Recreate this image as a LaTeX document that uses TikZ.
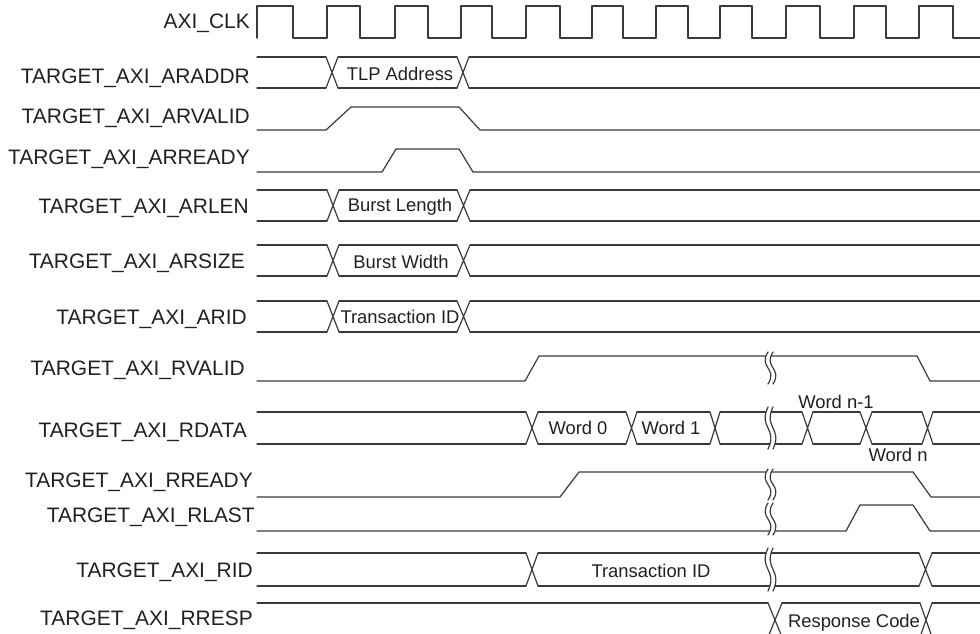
\documentclass[tikz,border=0pt]{standalone}
\usepackage{fontspec}
\setmainfont{Liberation Sans}
\definecolor{linec}{HTML}{3A3A3A}
\definecolor{textc}{HTML}{231F20}
\tikzset{
  sig/.style={draw=linec,line width=0.9pt,line cap=round,line join=round},
  lbl/.style={anchor=base east,inner sep=0pt,text=textc,font=\fontsize{15.7}{18}\selectfont},
  val/.style={anchor=base,inner sep=0pt,text=textc,font=\fontsize{13.8}{16}\selectfont},
}
% x1 x2 top bottom : two parallel levels
\newcommand\lvl[4]{\draw[sig] (#1,#3) -- (#2,#3) (#1,#4) -- (#2,#4);}
% xa xb top bottom : crossing
\newcommand\crs[4]{\draw[sig] (#1,#3) -- (#2,#4) (#1,#4) -- (#2,#3);}
% x top bottom : break mark
\newcommand\brk[3]{%
  \fill[white] (#1,#2) .. controls ({#1-10},{(#2+#3)/2}) and ({#1+10},{(#2+#3)/2}) .. (#1,#3)
     -- ({#1+5},#3) .. controls ({#1+15},{(#2+#3)/2}) and ({#1-5},{(#2+#3)/2}) .. ({#1+5},#2) -- cycle;
  \draw[sig] (#1,#2) .. controls ({#1-10},{(#2+#3)/2}) and ({#1+10},{(#2+#3)/2}) .. (#1,#3);
  \draw[sig] ({#1+5},#2) .. controls ({#1-5},{(#2+#3)/2}) and ({#1+15},{(#2+#3)/2}) .. ({#1+5},#3);}
\begin{document}
\begin{tikzpicture}[x=0.75pt,y=-0.75pt]
\useasboundingbox (0,0) rectangle (980,634);
% labels
\node[lbl] (lclk)    at (250,29)  {AXI\_CLK};
\node[lbl] (laraddr) at (250,84)  {TARGET\_AXI\_ARADDR};
\node[lbl] (larvalid) at (250,124) {TARGET\_AXI\_ARVALID};
\node[lbl] (larready) at (250,165) {TARGET\_AXI\_ARREADY};
\node[lbl] (larlen)  at (249,214) {TARGET\_AXI\_ARLEN};
\node[lbl] (larsize) at (245,269) {TARGET\_AXI\_ARSIZE};
\node[lbl] (larid)   at (247,325) {TARGET\_AXI\_ARID};
\node[lbl] (lrvalid) at (245,375) {TARGET\_AXI\_RVALID};
\node[lbl] (lrdata)  at (247,437) {TARGET\_AXI\_RDATA};
\node[lbl] (lrready) at (253,487) {TARGET\_AXI\_RREADY};
\node[lbl] (lrlast)  at (255,522) {TARGET\_AXI\_RLAST};
\node[lbl] (lrid)    at (253,577) {TARGET\_AXI\_RID};
\node[lbl] (lrresp)  at (253,625) {TARGET\_AXI\_RRESP};
% clock
\draw[sig] (257,38) -- (257,6) -- (293,6) -- (293,38) -- (327,38) -- (327,6) -- (360,6) -- (360,38)
  -- (395,38) -- (395,6) -- (428,6) -- (428,38) -- (461,38) -- (461,6) -- (492,6) -- (492,38)
  -- (526,38) -- (526,6) -- (560,6) -- (560,38) -- (592,38) -- (592,6) -- (623,6) -- (623,38)
  -- (656,38) -- (656,6) -- (688,6) -- (688,38) -- (720,38) -- (720,6) -- (752,6) -- (752,38)
  -- (786,38) -- (786,6) -- (820,6) -- (820,38) -- (854,38) -- (854,6) -- (886,6) -- (886,38)
  -- (919,38) -- (919,6) -- (953,6) -- (953,38) -- (980,38);
% ARADDR
\lvl{257}{326}{57}{88}\crs{326}{338}{57}{88}\lvl{338}{457}{57}{88}\crs{457}{469}{57}{88}\lvl{469}{980}{57}{88}
\node[val] (taddr) at (400,81) {TLP Address};
% ARVALID
\draw[sig] (257,130) -- (326,130) -- (351,107) -- (459,107) -- (480,130) -- (980,130);
% ARREADY
\draw[sig] (257,172) -- (382,172) -- (396,149) -- (459,149) -- (473,172) -- (980,172);
% ARLEN
\lvl{257}{327}{190}{221}\crs{327}{339}{190}{221}\lvl{339}{457}{190}{221}\crs{457}{470}{190}{221}\lvl{470}{980}{190}{221}
\node[val] (tlen) at (400,212) {Burst Length};
% ARSIZE
\lvl{257}{327}{245}{276}\crs{327}{339}{245}{276}\lvl{339}{457}{245}{276}\crs{457}{470}{245}{276}\lvl{470}{980}{245}{276}
\node[val] (twidth) at (401,268) {Burst Width};
% ARID
\lvl{257}{327}{301}{332}\crs{327}{339}{301}{332}\lvl{339}{457}{301}{332}\crs{457}{470}{301}{332}\lvl{470}{980}{301}{332}
\node[val] (tarid) at (400,323) {Transaction ID};
% RVALID
\draw[sig] (257,381) -- (525,381) -- (539,356) -- (917,356) -- (930,381) -- (980,381);
\brk{768}{352}{384}
% RDATA
\lvl{257}{526}{412}{444}\crs{526}{538}{412}{444}\lvl{538}{626}{412}{444}\crs{626}{637}{412}{444}
\lvl{637}{710}{412}{444}\crs{710}{720}{412}{444}\lvl{720}{802}{412}{444}\crs{802}{813}{412}{444}
\lvl{813}{860}{412}{444}\crs{860}{872}{412}{444}\lvl{872}{922}{412}{444}\crs{922}{933}{412}{444}\lvl{933}{980}{412}{444}
\brk{768}{407}{449}
\node[val] (tw0) at (578,434) {Word 0};
\node[val] (tw1) at (671,434) {Word 1};
\node[val] (twn1) at (836,408) {Word n-1};
\node[val] (twn) at (898,461) {Word n};
% RREADY
\draw[sig] (257,497) -- (560,497) -- (579,472) -- (913,472) -- (931,497) -- (980,497);
\brk{768}{469}{500}
% RLAST
\draw[sig] (257,531) -- (846,531) -- (860,505) -- (913,505) -- (930,531) -- (980,531);
\brk{768}{503}{535}
% RID
\lvl{257}{526}{553}{586}\crs{526}{538}{553}{586}\lvl{538}{919}{553}{586}\crs{919}{932}{553}{586}\lvl{932}{980}{553}{586}
\brk{768}{548}{591}
\node[val] (trid) at (651,577) {Transaction ID};
% RRESP
\lvl{257}{768}{603}{637}\crs{768}{782}{603}{637}\lvl{782}{920}{603}{637}\crs{920}{932}{603}{637}\lvl{932}{980}{603}{637}
\node[val] (tresp) at (854,627) {Response Code};
\end{tikzpicture}
\end{document}
